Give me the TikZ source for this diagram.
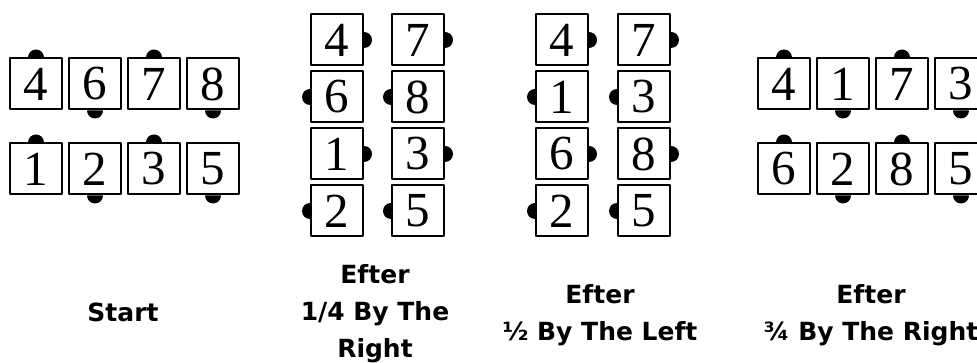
\documentclass[tikz,border=0pt]{standalone}
\usepackage{fontspec}
\newfontfamily\cardfont{Liberation Serif}
\newfontfamily\capfont{DejaVu Sans}
% half disc stuck on one side of a card
\newcommand\knob[2]{\fill (#1.#2) ++(#2+90:8pt) arc[start angle=#2+90, delta angle=-180, radius=8pt] -- cycle;}

\begin{document}
\begin{tikzpicture}[x=1pt, y=1pt, line join=round,
	card/.style={draw, line width=2pt, fill=white, minimum width=52pt, minimum height=51pt, inner sep=0pt, font=\cardfont\fontsize{49}{49}\selectfont},
	caption/.style={align=center, font=\capfont\bfseries\fontsize{25}{37}\selectfont}]
	\useasboundingbox (0,0) rectangle (977,363);
	\clip (0,0) rectangle (977,363);
	\def\dx{59}
	% start
	\foreach \n [count=\i] in {4,6,7,8} \node[card] (st\n) at ({36+\dx*(\i-1)},279) {\n};
	\foreach \n [count=\i] in {1,2,3,5} \node[card] (st\n) at ({36+\dx*(\i-1)},194) {\n};
	\foreach \n in {4,7,1,3} {\knob{st\n}{90}}
	\foreach \n in {6,8,2,5} {\knob{st\n}{270}}
	% after 1/4 by the right
	\foreach \a/\b [count=\i] in {4/7,6/8,1/3,2/5} {
		\node[card] (qr\a) at (337,{323-57*(\i-1)}) {\a};
		\node[card] (qr\b) at (418,{323-57*(\i-1)}) {\b};
	}
	\foreach \n in {4,7,1,3} {\knob{qr\n}{0}}
	\foreach \n in {6,8,2,5} {\knob{qr\n}{180}}
	% after 1/2 by the left
	\foreach \a/\b [count=\i] in {4/7,1/3,6/8,2/5} {
		\node[card] (hl\a) at (562,{323-57*(\i-1)}) {\a};
		\node[card] (hl\b) at (644,{323-57*(\i-1)}) {\b};
	}
	\foreach \n in {4,7,6,8} {\knob{hl\n}{0}}
	\foreach \n in {1,3,2,5} {\knob{hl\n}{180}}
	% after 3/4 by the right
	\foreach \n [count=\i] in {4,1,7,3} \node[card] (tr\n) at ({784+\dx*(\i-1)},279) {\n};
	\foreach \n [count=\i] in {6,2,8,5} \node[card] (tr\n) at ({784+\dx*(\i-1)},194) {\n};
	\foreach \n in {4,7,6,8} {\knob{tr\n}{90}}
	\foreach \n in {1,3,2,5} {\knob{tr\n}{270}}
	% captions
	\node[caption] (cap1) at (123,51) {Start};
	\node[caption] (cap2) at (375,49) {Efter\\1/4 By The\\Right};
	\node[caption] (cap3) at (600,48) {Efter\\½ By The Left};
	\node[caption] (cap4) at (871,48) {Efter\\¾ By The Right};
\end{tikzpicture}
\end{document}
